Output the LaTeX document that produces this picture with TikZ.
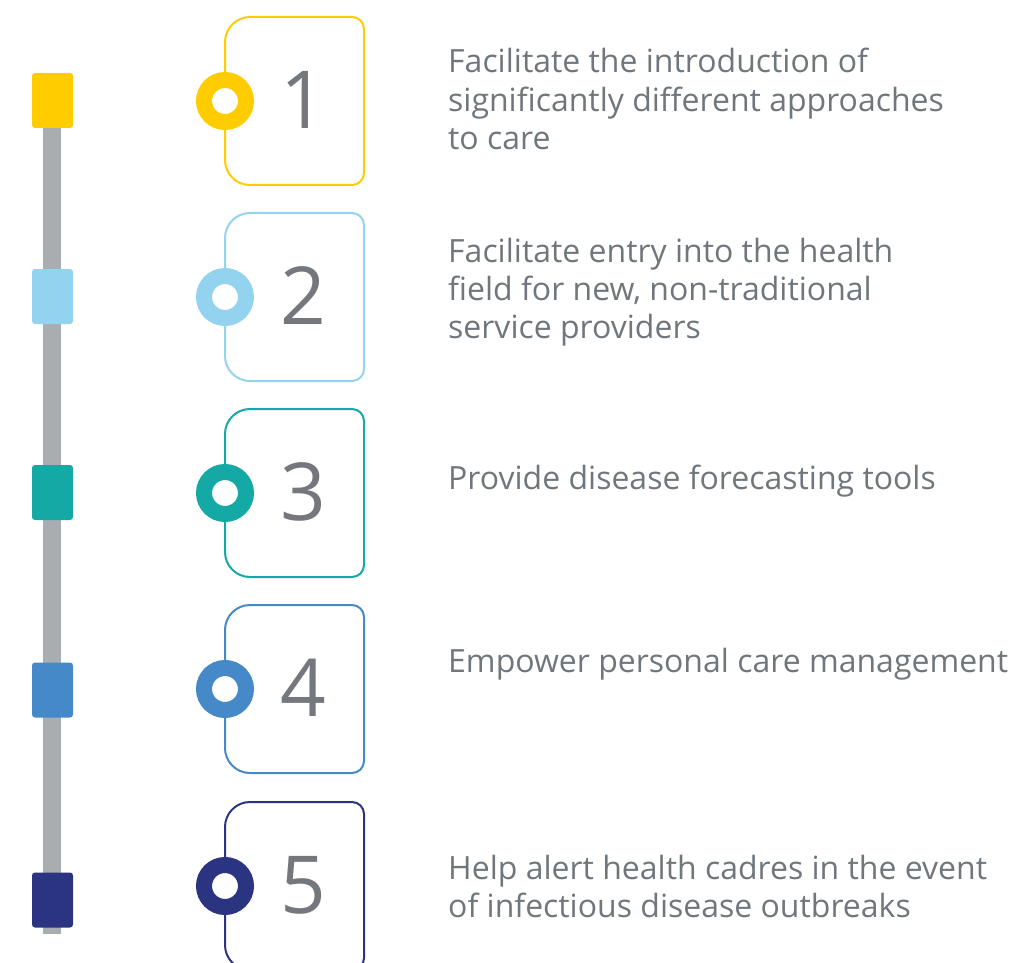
\documentclass[tikz,border=0pt]{standalone}
\usepackage{fontspec}
\setmainfont{Open Sans}
\definecolor{cA}{HTML}{FFCC00}
\definecolor{cB}{HTML}{93D3F0}
\definecolor{cC}{HTML}{14A9A4}
\definecolor{cD}{HTML}{4589C9}
\definecolor{cE}{HTML}{2B3480}
\definecolor{barg}{HTML}{A8ADB1}
\definecolor{txtg}{HTML}{6F777D}
\definecolor{digg}{HTML}{74787C}
\tikzset{
  frameline/.style={line width=2pt},
  ring/.style={circle, draw=#1, fill=white, line width=16pt, minimum size=42pt, inner sep=0pt},
  marker/.style={fill=#1, rounded corners=3pt},
  digit/.style={font=\fontsize{80}{80}\selectfont, text=digg, inner sep=0pt},
  desc/.style={anchor=base west, inner sep=0pt, text=txtg}
}
\newcommand\desctext[1]{\parbox[t]{600pt}{\raggedright\fontsize{32}{38.5}\selectfont #1}}
\begin{document}
\begin{tikzpicture}[x=1pt,y=-1pt]
\useasboundingbox (0,0) rectangle (1013,963);
% vertical bar
\coordinate (bartop) at (52,100);
\coordinate (barbot) at (52,934);
\draw[barg, line width=18pt] (bartop) -- (barbot);
% markers
\foreach \c/\y/\n in {cA/100.5/1, cB/296.5/2, cC/492.5/3, cD/690/4, cE/900/5}{
  \fill[marker=\c] (32,\y-27.5) rectangle (73,\y+27.5);
}
% frames
\foreach \c/\t/\n in {cA/17/1, cB/213/2, cC/409/3, cD/605/4, cE/802/5}{
  \begin{scope}[shift={(0,\t)}]
    \draw[frameline, \c] (225,25) .. controls (225,11.2) and (236.2,0) .. (250,0)
      -- (352,0) .. controls (358.6,0) and (364,5.4) .. (364,12)
      -- (364,156) .. controls (364,162.6) and (358.6,168) .. (352,168)
      -- (250,168) .. controls (236.2,168) and (225,156.8) .. (225,143) -- cycle;
    \node[ring=\c] (ring\n) at (225,84) {};
    \node[digit] (num\n) at (303,83) {\n};
  \end{scope}
}
% descriptions
\node[desc] (t1) at (448,73) {\desctext{Facilitate the introduction of\\significantly different approaches\\to care}};
\node[desc] (t2) at (448,262) {\desctext{Facilitate entry into the health\\field for new, non-traditional\\service providers}};
\node[desc] (t3) at (448,489) {\desctext{Provide disease forecasting tools}};
\node[desc] (t4) at (448,672) {\desctext{Empower personal care management}};
\node[desc] (t5) at (448,879) {\desctext{Help alert health cadres in the event\\of infectious disease outbreaks}};
\end{tikzpicture}
\end{document}
